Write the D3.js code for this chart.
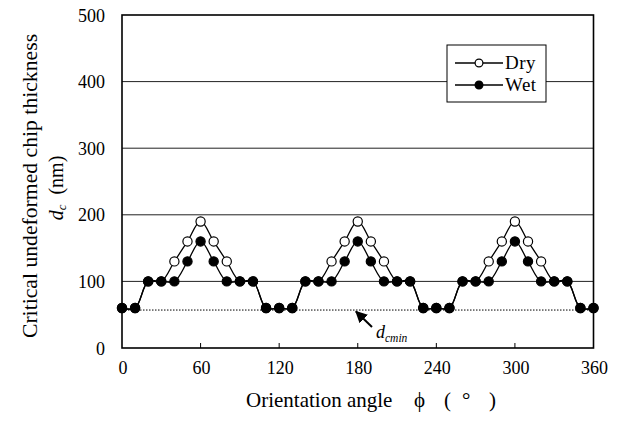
<!DOCTYPE html>
<html><head><meta charset="utf-8">
<script src="https://cdn.jsdelivr.net/npm/d3@7"></script>
<style>body{margin:0;background:#fff}svg{display:block} text{font-family:"Liberation Serif";}</style>
</head><body>
<svg id="c" width="619" height="423"></svg>
<script>
const angles = [0,10,20,30,40,50,60,70,80,90,100,110,120,130,140,150,160,170,180,190,200,210,220,230,240,250,260,270,280,290,300,310,320,330,340,350,360];
const dry = [60,60,100,100,130,160,190,160,130,100,100,60,60,60,100,100,130,160,190,160,130,100,100,60,60,60,100,100,130,160,190,160,130,100,100,60,60];
const wet = [60,60,100,100,100,130,160,130,100,100,100,60,60,60,100,100,100,130,160,130,100,100,100,60,60,60,100,100,100,130,160,130,100,100,100,60,60];
const xTicks = [0,60,120,180,240,300,360];
const yTicks = [0,100,200,300,400,500];
const dcmin = 57;

const svg = d3.select("#c");
const L=122, R=593.5, T=15, B=348;
const x = d3.scaleLinear().domain([0,360]).range([L,R]);
const y = d3.scaleLinear().domain([0,500]).range([B,T]);
const font = "Liberation Serif";

svg.append("g").selectAll("line").data(yTicks.filter(d=>d>0&&d<500)).join("line")
  .attr("x1",L).attr("x2",R).attr("y1",d=>y(d)).attr("y2",d=>y(d))
  .attr("stroke","#222").attr("stroke-width",1);

svg.append("g").selectAll("line").data(xTicks.slice(1,-1)).join("line")
  .attr("x1",d=>x(d)).attr("x2",d=>x(d)).attr("y1",B).attr("y2",B-5)
  .attr("stroke","#000").attr("stroke-width",1);

svg.append("line").attr("x1",x(0)).attr("x2",x(360)).attr("y1",y(dcmin)).attr("y2",y(dcmin))
  .attr("stroke","#000").attr("stroke-width",1).attr("stroke-dasharray","1.5,1.5");

svg.append("rect").attr("x",L).attr("y",T).attr("width",R-L).attr("height",B-T)
  .attr("fill","none").attr("stroke","#000").attr("stroke-width",1.6);

svg.append("g").selectAll("text").data(yTicks).join("text")
  .attr("x",105).attr("y",d=>y(d)+6.5).attr("text-anchor","end")
  .style("font-family",font).style("font-size","18px").text(d=>d);
svg.append("g").selectAll("text").data(xTicks).join("text")
  .attr("x",d=>x(d)+1).attr("y",374).attr("text-anchor","middle")
  .style("font-family",font).style("font-size","18px").text(d=>d);

const xt = svg.append("text").attr("y",407).style("font-family",font).style("font-size","21px");
xt.append("tspan").attr("x",246).text("Orientation angle");
xt.append("tspan").attr("x",414).text("\u03D5");
xt.append("tspan").attr("x",444).text("(");
xt.append("tspan").attr("x",462).text("\u00B0");
xt.append("tspan").attr("x",489).text(")");

const yt = svg.append("g").attr("transform","translate(0,186) rotate(-90)");
yt.append("text").attr("x",0).attr("y",37).attr("text-anchor","middle")
  .style("font-family",font).style("font-size","21.7px").text("Critical undeformed chip thickness");
const t2 = yt.append("text").attr("x",-2).attr("y",63).attr("text-anchor","middle")
  .style("font-family",font).style("font-size","20px");
t2.append("tspan").style("font-style","italic").text("d");
t2.append("tspan").style("font-style","italic").style("font-size","13px").attr("dy",3).text("c");
t2.append("tspan").attr("dy",-3).text("\u00A0\u00A0(nm)");

const line = d3.line().x((d,i)=>x(angles[i])).y(d=>y(d)).curve(d3.curveCatmullRom.alpha(0.5));
function series(vals, fill){
  svg.append("path").attr("d",line(vals)).attr("fill","none").attr("stroke","#000").attr("stroke-width",1.3);
  svg.append("g").selectAll("circle").data(vals).join("circle")
    .attr("cx",(d,i)=>x(angles[i])).attr("cy",d=>y(d)).attr("r",4.6)
    .attr("fill",fill).attr("stroke","#000").attr("stroke-width",1.2);
}
series(dry,"#fff");
series(wet,"#000");

svg.append("defs").append("marker").attr("id","ah").attr("viewBox","0 0 10 10")
  .attr("refX",9).attr("refY",5).attr("markerWidth",6).attr("markerHeight",6).attr("orient","auto")
  .append("path").attr("d","M0,0 L10,5 L0,10 z").attr("fill","#000");
svg.append("line").attr("x1",372).attr("y1",327).attr("x2",356).attr("y2",311.5)
  .attr("stroke","#000").attr("stroke-width",2).attr("marker-end","url(#ah)");
const an = svg.append("text").attr("x",376).attr("y",338).style("font-family",font).style("font-size","18px").style("font-style","italic");
an.append("tspan").text("d");
an.append("tspan").style("font-size","11.5px").attr("dy",3.5).text("cmin");

const lg = svg.append("g");
lg.append("rect").attr("x",447).attr("y",45).attr("width",99).attr("height",57)
  .attr("fill","#fff").attr("stroke","#000").attr("stroke-width",1);
[["Dry","#fff",63],["Wet","#000",85]].forEach(([name,fill,yy])=>{
  lg.append("line").attr("x1",455).attr("x2",503).attr("y1",yy).attr("y2",yy).attr("stroke","#000").attr("stroke-width",1.3);
  lg.append("circle").attr("cx",479).attr("cy",yy).attr("r",3.9).attr("fill",fill).attr("stroke","#000").attr("stroke-width",1.2);
  lg.append("text").attr("x",505).attr("y",yy+6).style("font-family",font).style("font-size","19px").style("letter-spacing","0.5px").text(name);
});
</script>
</body></html>
